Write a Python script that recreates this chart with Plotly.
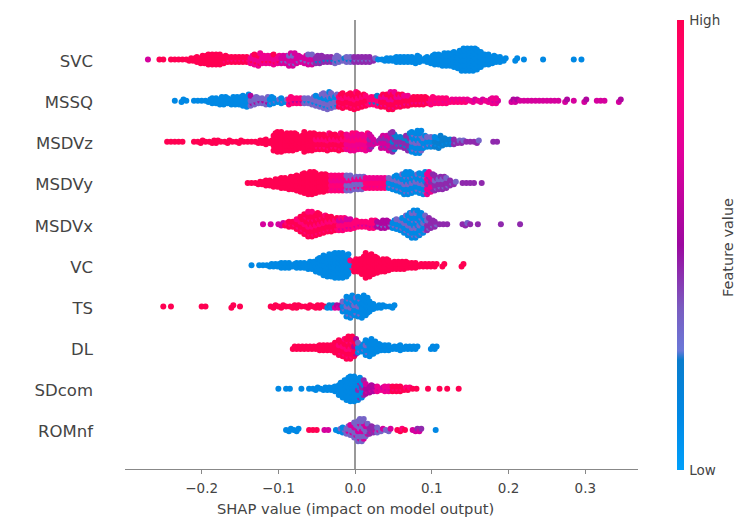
import plotly.graph_objects as go

features = ["SVC", "MSSQ", "MSDVz", "MSDVy", "MSDVx", "VC", "TS", "DL", "SDcom", "ROMnf"]
bin_width = 0.005

# Each row: first bin value, dots per 0.005 SHAP bin, then feature-value tones (0-9) from each breakpoint onward
SVC_start = -0.27
SVC_counts = [1,0,0,1,1,0,1,1,1,1,1,2,2,3,4,4,5,5,5,5,4,3,3,3,3,3,3,4,5,6,4,4,4,5,4,4,4,6,6,4,3,4,5,5,4,4,3,3,3,4,3,2,3,3,3,3,3,3,3,2,1,1,2,2,2,3,3,3,3,3,4,3,2,3,4,5,5,6,6,6,7,8,10,10,10,10,9,7,5,5,4,3,3,2,0,0,2,0,1,0,0,0,0,1,0,0,0,0,0,0,0,1,0,1]
SVC_tone_at = [-0.27,-0.26,-0.17,-0.135,-0.095,-0.05,-0.025,0.0,0.03,0.06]
SVC_tones = [6,9,9,7,6,4,3,4,1,0]
SVC_alt = [6,9,8,9,3,2,2,3,1,0]

MSSQ_start = -0.235
MSSQ_counts = [1,0,2,1,0,1,1,1,1,2,3,3,4,4,3,4,4,4,5,6,5,4,3,3,4,4,3,2,3,2,4,3,3,3,3,3,4,5,6,7,8,7,6,6,7,6,7,8,7,6,5,4,4,5,6,6,8,8,6,6,5,5,4,4,4,4,3,4,3,3,3,3,2,2,2,2,2,1,2,1,2,1,2,3,3,0,0,0,2,2,1,1,1,1,1,1,1,1,1,1,1,0,2,0,1,0,0,2,0,0,1,1,1,0,0,0,2]
MSSQ_tone_at = [-0.235,-0.135,-0.11,-0.085,-0.065,-0.02,0.02,0.035,0.1,0.15,0.19]
MSSQ_tones = [0,3,1,8,3,9,8,9,8,7,6]
MSSQ_alt = [1,5,3,5,1,8,2,7,7,6,5]

MSDVz_start = -0.245
MSDVz_counts = [1,1,1,1,1,0,0,1,1,2,1,1,2,2,1,1,2,1,1,2,1,1,1,1,2,2,3,2,8,9,9,8,8,8,7,6,9,8,8,7,7,7,8,7,7,8,7,7,8,8,7,7,8,7,3,2,6,6,8,9,5,5,6,8,9,10,10,6,5,5,5,6,4,3,3,3,2,2,1,1,1,2,0,0,0,1,1]
MSDVz_tone_at = [-0.245,-0.05,-0.01,0.018,0.05,0.075,0.105,0.13]
MSDVz_tones = [9,9,7,6,4,1,2,4]
MSDVz_alt = [9,8,8,4,2,3,1,3]

MSDVy_start = -0.14
MSDVy_counts = [1,1,1,2,2,3,3,4,4,5,5,6,6,7,8,9,10,10,9,8,8,7,7,7,7,7,7,7,6,6,6,5,5,5,5,5,5,5,6,7,8,10,10,9,8,9,10,10,8,7,6,6,5,3,2,0,1,1,1,1,0,1]
MSDVy_tone_at = [-0.14,-0.03,-0.01,0.012,0.045,0.095,0.105]
MSDVy_tones = [9,8,3,8,1,7,4]
MSDVy_alt = [9,7,7,7,3,4,3]

MSDVx_start = -0.12
MSDVx_counts = [1,0,1,0,1,2,2,3,3,5,7,9,11,11,10,9,8,7,7,6,6,6,5,5,4,3,3,3,4,4,3,4,4,3,4,5,6,8,10,12,12,10,8,6,4,3,1,1,1,0,0,0,1,2,1,0,1,0,0,0,0,0,1,0,0,0,0,1]
MSDVx_tone_at = [-0.12,-0.09,-0.02,0.0,0.03,0.05,0.095]
MSDVx_tones = [6,9,8,8,5,1,4]
MSDVx_alt = [6,8,6,6,3,3,3]

VC_start = -0.135
VC_counts = [1,0,1,1,1,2,2,2,3,3,3,2,3,3,3,4,4,6,7,9,10,10,11,11,11,10,5,6,6,8,11,10,8,7,6,6,5,4,4,4,4,3,3,3,2,2,2,2,2,0,2,0,0,0,0,2]
VC_tone_at = [-0.135,-0.03,-0.007,0.0]
VC_tones = [0,1,1,9]
VC_alt = [0,1,8,9]

TS_start = -0.25
TS_counts = [1,0,1,0,0,0,0,0,0,0,1,1,0,0,0,0,0,0,2,0,1,0,0,0,0,0,0,0,1,2,1,2,1,1,2,2,1,1,2,1,2,2,1,2,2,2,2,5,9,10,8,9,10,8,5,3,2,2,1,1,2]
TS_tone_at = [-0.25,-0.035,-0.025,-0.015,0.01]
TS_tones = [9,1,6,1,1]
TS_alt = [9,2,5,3,1]

DL_start = -0.08
DL_counts = [2,2,2,2,2,2,2,3,3,3,3,5,7,8,10,10,8,5,4,7,8,6,4,3,3,3,2,2,3,2,2,2,2,0,0,0,2,2]
DL_tone_at = [-0.08,-0.02,-0.002,0.004,0.02]
DL_tones = [9,9,9,1,0]
DL_alt = [9,8,5,3,0]

SDcom_start = -0.1
SDcom_counts = [1,0,1,1,0,0,1,0,1,1,2,1,2,2,2,3,6,8,10,11,11,10,8,5,4,3,3,2,3,3,3,3,3,2,2,1,1,0,0,1,0,0,1,0,1,0,0,1]
SDcom_tone_at = [-0.1,-0.03,0.004,0.015,0.03,0.05]
SDcom_tones = [0,1,1,5,7,9]
SDcom_alt = [0,1,4,6,6,8]

ROMnf_start = -0.09
ROMnf_counts = [1,2,1,2,0,0,1,1,1,0,1,1,0,1,2,3,4,5,7,10,10,6,4,3,3,2,1,2,0,1,2,1,0,1,2,2,0,0,0,1]
ROMnf_tone_at = [-0.09,-0.07,-0.045,-0.025,-0.01,0.02,0.03,0.05,0.07,0.09]
ROMnf_tones = [0,9,6,1,3,4,3,9,6,0]
ROMnf_alt = [0,9,6,3,6,6,6,8,4,0]

rows = [
    (SVC_start, SVC_counts, SVC_tone_at, SVC_tones, SVC_alt),
    (MSSQ_start, MSSQ_counts, MSSQ_tone_at, MSSQ_tones, MSSQ_alt),
    (MSDVz_start, MSDVz_counts, MSDVz_tone_at, MSDVz_tones, MSDVz_alt),
    (MSDVy_start, MSDVy_counts, MSDVy_tone_at, MSDVy_tones, MSDVy_alt),
    (MSDVx_start, MSDVx_counts, MSDVx_tone_at, MSDVx_tones, MSDVx_alt),
    (VC_start, VC_counts, VC_tone_at, VC_tones, VC_alt),
    (TS_start, TS_counts, TS_tone_at, TS_tones, TS_alt),
    (DL_start, DL_counts, DL_tone_at, DL_tones, DL_alt),
    (SDcom_start, SDcom_counts, SDcom_tone_at, SDcom_tones, SDcom_alt),
    (ROMnf_start, ROMnf_counts, ROMnf_tone_at, ROMnf_tones, ROMnf_alt),
]

STACK = 0.06
fig = go.Figure()
n_rows = len(features)
for r, (start, counts, tone_at, tones, alts) in enumerate(rows):
    row_pos = n_rows - 1 - r
    xs, ys, cs = [], [], []
    for b, n in enumerate(counts):
        v = start + b * bin_width
        tone, alt = tones[0], alts[0]
        for at, t, a in zip(tone_at, tones, alts):
            if v >= at - 1e-9:
                tone, alt = t, a
        for j in range(n):
            shift = ((j % 2) - 0.5) * bin_width / 2 if n > 1 else 0
            xs.append(round(v + shift, 5))
            ys.append(row_pos + (j - (n - 1) / 2) * STACK)
            cs.append(max((alt if j % 3 == 1 else tone) / 9, 0.12))
    fig.add_trace(go.Scatter(x=xs, y=ys, mode="markers", showlegend=False, hoverinfo="skip",
                             marker=dict(size=6, color=cs, coloraxis="coloraxis", line=dict(width=0))))

scale = [[0, "#00a0fb"], [0.12, "#0088e4"], [0.245, "#0a7ccc"], [0.265, "#6a78d8"],
         [0.36, "#7a5cc0"], [0.5, "#9c08a0"], [0.7, "#e0009c"], [0.86, "#ff0080"], [1, "#ff0052"]]

txt = "#444444"
W, H = 736, 523
L, R, T, B = 125, 98, 20, 54
plot_w, plot_h = W - L - R, H - T - B
fig.update_layout(
    width=W, height=H, autosize=False,
    paper_bgcolor="white", plot_bgcolor="white",
    margin=dict(l=L, r=R, t=T, b=B, autoexpand=False),
    font=dict(family="DejaVu Sans", color=txt),
    coloraxis=dict(cmin=0, cmax=1, colorscale=scale, colorbar=dict(
        thickness=7, lenmode="pixels", len=450,
        x=(677 - L) / plot_w, xanchor="left", xpad=0,
        y=-1 / plot_h, yanchor="bottom", ypad=0,
        outlinewidth=0, tickmode="array", tickvals=[0, 1], ticktext=["Low", "High"],
        ticks="outside", ticklen=3, tickcolor="white", tickfont=dict(size=13.5, color=txt))),
    xaxis=dict(range=[-0.2999, 0.3687], tickmode="array", automargin=False,
               tickvals=[-0.2, -0.1, 0, 0.1, 0.2, 0.3],
               ticktext=["\u22120.2", "\u22120.1", "0.0", "0.1", "0.2", "0.3"],
               showgrid=False, zeroline=True, zerolinecolor="#999999", zerolinewidth=1.5,
               showline=True, linecolor="#888888", linewidth=1.2, ticks="outside", ticklen=4,
               ticklabelstandoff=3,
               tickcolor="#888888", tickfont=dict(size=13.5, color=txt)),
    yaxis=dict(range=[-0.947, 9.96], tickmode="array", automargin=False,
               tickvals=[n_rows - 1 - i - 0.04 for i in range(n_rows)], ticktext=features,
               showgrid=False, zeroline=False, showline=False, ticks="",
               ticklabelstandoff=31, tickfont=dict(size=16.5, color=txt)),
    annotations=[
        dict(text="Feature value", xref="paper", yref="paper", textangle=-90,
             x=(728 - L) / plot_w, y=(469 - 248) / plot_h, showarrow=False,
             xanchor="center", yanchor="middle", font=dict(size=14.5, color=txt)),
        dict(text="SHAP value (impact on model output)", xref="x", yref="paper",
             x=0, y=(469 - 508) / plot_h, showarrow=False,
             xanchor="center", yanchor="middle", font=dict(size=14.7, color=txt)),
    ],
)
fig.write_html("out.html", config={"displayModeBar": False},
               post_script="document.body.style.margin='0';")
